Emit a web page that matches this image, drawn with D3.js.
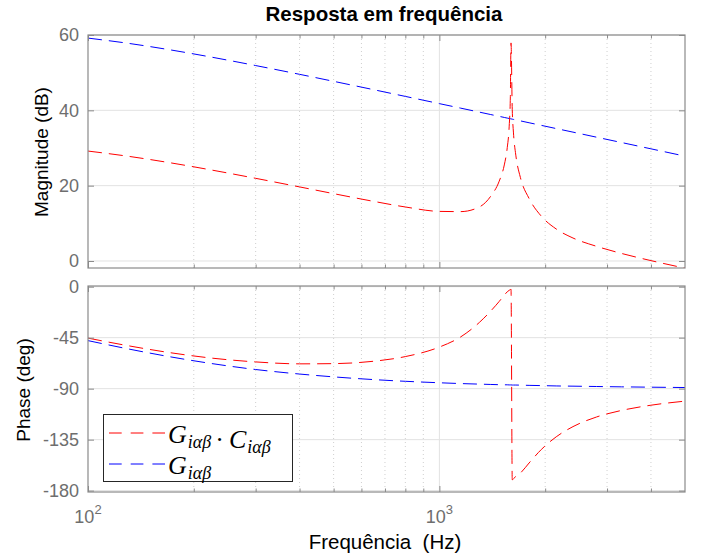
<!DOCTYPE html>
<html>
<head>
<meta charset="utf-8">
<script src="https://cdn.jsdelivr.net/npm/d3@7"></script>
<style>
body { margin: 0; background: #fff; }
text { font-family: "Liberation Sans", Arial, Helvetica, sans-serif; }
</style>
</head>
<body>
<script>
// frequency samples (Hz), denser around the resonance
var freq = [100, 130, 170, 220, 300, 400, 500, 650, 800, 1000, 1150, 1300, 1400, 1480, 1530, 1560, 1580, 1592, 1599,
            1612, 1625, 1650, 1700, 1800, 1950, 2150, 2400, 2800, 3300, 4000, 5000];

// G (blue)
var magG = [59.18, 57.80, 56.11, 54.28, 51.89, 49.56, 47.70, 45.48, 43.70, 41.78, 40.58, 39.52, 38.88, 38.40, 38.11, 37.94, 37.83, 37.77, 37.73,
            37.66, 37.59, 37.46, 37.20, 36.70, 36.01, 35.16, 34.21, 32.87, 31.45, 29.78, 27.84];
var phaseG = [-47.6, -54.9, -61.7, -67.4, -73.1, -77.1, -79.6, -82.0, -83.5, -84.8, -85.5, -86.0, -86.3, -86.5, -86.6, -86.6, -86.7, -86.7, -86.7,
              -86.8, -86.8, -86.8, -86.9, -87.1, -87.3, -87.6, -87.8, -88.1, -88.4, -88.7, -89.0];

// G*C (red)
var magGC = [29.19, 27.81, 26.13, 24.31, 21.95, 19.67, 17.88, 15.83, 14.34, 13.17, 13.11, 14.35, 17.2, 21.2, 25.5, 30.1, 35.8, 43.6, 57.9,
             40.2, 34.0, 28.1, 22.2, 16.6, 11.9, 8.5, 6.1, 3.9, 2.0, 0.1, -1.9];
var phaseGC = [-45.4, -52.1, -58.1, -62.7, -66.4, -68.1, -67.9, -65.8, -61.7, -53.3, -44.3, -31.5, -21.5, -13.0, -7.5, -4.5, -3.2, -2.6, -2.2,
               -170.5, -169.5, -167.5, -164.5, -155.6, -143.7, -132.5, -123.5, -115.0, -109.2, -104.6, -101.0];

var magTicks = [0, 20, 40, 60];
var phaseTicks = [0, -45, -90, -135, -180];
var xMajor = [100, 1000];
var xMinor = [200, 300, 400, 500, 600, 700, 800, 900, 2000, 3000, 4000];

var width = 702, height = 555;
var left = 88, right = 685;

var x = d3.scaleLog().domain([100, 5000]).range([left, right]);
var yMag = d3.scaleLinear().domain([-1.86, 60]).range([268, 35]);
var yPh = d3.scaleLinear().domain([-181.2, 0.6]).range([492, 286]);

var svg = d3.select("body").append("svg")
    .attr("width", width)
    .attr("height", height);

function seriesOf(vals) {
    return freq.map(function (f, i) { return { f: f, v: vals[i] }; });
}

function drawPanel(y, ticks, id, series) {
    var top = y.range()[1], bottom = y.range()[0];
    var g = svg.append("g").attr("id", id);

    // minor grid (dotted)
    g.selectAll("line.minor").data(xMinor).enter().append("line")
        .attr("x1", function (d) { return x(d); }).attr("x2", function (d) { return x(d); })
        .attr("y1", top).attr("y2", bottom)
        .attr("stroke", "#cfcfcf").attr("stroke-width", 1)
        .attr("stroke-dasharray", "1,3");

    // major grid
    g.selectAll("line.majx").data(xMajor.slice(1)).enter().append("line")
        .attr("x1", function (d) { return x(d); }).attr("x2", function (d) { return x(d); })
        .attr("y1", top).attr("y2", bottom)
        .attr("stroke", "#e2e2e2").attr("stroke-width", 1);
    g.selectAll("line.majy").data(ticks).enter().append("line")
        .attr("x1", left).attr("x2", right)
        .attr("y1", function (d) { return y(d); }).attr("y2", function (d) { return y(d); })
        .attr("stroke", "#e2e2e2").attr("stroke-width", 1);

    // data
    var clipId = "clip-" + id;
    g.append("clipPath").attr("id", clipId).append("rect")
        .attr("x", left).attr("y", top).attr("width", right - left).attr("height", bottom - top);

    var line = d3.line()
        .x(function (d) { return x(d.f); })
        .y(function (d) { return y(d.v); })
        .curve(d3.curveMonotoneX);

    series.forEach(function (s) {
        g.append("path")
            .datum(seriesOf(s.vals))
            .attr("clip-path", "url(#" + clipId + ")")
            .attr("fill", "none")
            .attr("stroke", s.color)
            .attr("stroke-width", 1)
            .attr("stroke-dasharray", "14,7")
            .attr("d", line);
    });

    // axes (ticks pointing inward)
    var axL = g.append("g").attr("transform", "translate(" + left + ",0)")
        .call(d3.axisLeft(y).tickValues(ticks).tickSize(-6).tickPadding(9).tickFormat(function (d) { return String(d); }));
    var axR = g.append("g").attr("transform", "translate(" + right + ",0)")
        .call(d3.axisRight(y).tickValues(ticks).tickSize(-6).tickFormat(""));
    var axB = g.append("g").attr("transform", "translate(0," + bottom + ")")
        .call(d3.axisBottom(x).tickValues(xMajor).tickSize(-6).tickFormat(""));
    var axT = g.append("g").attr("transform", "translate(0," + top + ")")
        .call(d3.axisTop(x).tickValues(xMajor).tickSize(-6).tickFormat(""));
    var axBm = g.append("g").attr("transform", "translate(0," + bottom + ")")
        .call(d3.axisBottom(x).tickValues(xMinor).tickSize(-3.5).tickFormat(""));
    var axTm = g.append("g").attr("transform", "translate(0," + top + ")")
        .call(d3.axisTop(x).tickValues(xMinor).tickSize(-3.5).tickFormat(""));

    [axL, axR, axB, axT, axBm, axTm].forEach(function (a) {
        a.select(".domain").remove();
        a.selectAll(".tick line").attr("stroke", "#8a8a8a");
    });
    axL.selectAll(".tick text")
        .attr("fill", "#6e6e6e")
        .style("font-size", "18px")
        .style("font-family", "'Liberation Sans', Arial, sans-serif");

    // box
    g.append("rect")
        .attr("x", left).attr("y", top)
        .attr("width", right - left).attr("height", bottom - top)
        .attr("fill", "none").attr("stroke", "#8a8a8a").attr("stroke-width", 1.2);
}

drawPanel(yMag, magTicks, "mag", [
    { vals: magG, color: "#0000ff" },
    { vals: magGC, color: "#ff0000" }
]);
drawPanel(yPh, phaseTicks, "phase", [
    { vals: phaseG, color: "#0000ff" },
    { vals: phaseGC, color: "#ff0000" }
]);

// x tick labels 10^n
xMajor.forEach(function (d) {
    var t = svg.append("text")
        .attr("x", x(d))
        .attr("y", 523)
        .attr("text-anchor", "middle")
        .attr("fill", "#6e6e6e")
        .style("font-size", "18px");
    t.append("tspan").text("10");
    t.append("tspan").attr("dy", -9).style("font-size", "13px").text(String(Math.round(Math.log10(d))));
});

// titles
svg.append("text")
    .attr("x", 384).attr("y", 21)
    .attr("text-anchor", "middle")
    .style("font-size", "20.5px").style("font-weight", "bold")
    .text("Resposta em frequência");

svg.append("text")
    .attr("x", 385).attr("y", 549)
    .attr("text-anchor", "middle")
    .style("font-size", "20.5px")
    .attr("xml:space", "preserve")
    .text("Frequência  (Hz)");

svg.append("text")
    .attr("transform", "translate(48,152) rotate(-90)")
    .attr("text-anchor", "middle")
    .style("font-size", "19px")
    .text("Magnitude (dB)");

svg.append("text")
    .attr("transform", "translate(30,390) rotate(-90)")
    .attr("text-anchor", "middle")
    .style("font-size", "19px")
    .text("Phase (deg)");

// legend
var legend = svg.append("g").attr("id", "legend");
legend.append("rect")
    .attr("x", 103.5).attr("y", 414.5)
    .attr("width", 189).attr("height", 67)
    .attr("fill", "#fff").attr("stroke", "#262626").attr("stroke-width", 1);

var legendItems = [
    { color: "#ff0000", y: 433, parts: [["G", "iαβ"], ["C", "iαβ"]] },
    { color: "#0000ff", y: 464, parts: [["G", "iαβ"]] }
];

legendItems.forEach(function (item) {
    legend.append("line")
        .attr("x1", 109).attr("x2", 165)
        .attr("y1", item.y).attr("y2", item.y)
        .attr("stroke", item.color).attr("stroke-width", 1)
        .attr("stroke-dasharray", "12.7,9");

    var t = legend.append("text")
        .attr("x", 168).attr("y", item.y + 10)
        .style("font-family", "'Liberation Serif', 'Times New Roman', serif")
        .style("font-size", "26px");
    item.parts.forEach(function (p, i) {
        if (i > 0) {
            t.append("tspan").attr("dx", 4).style("font-style", "normal").text("·");
            t.append("tspan").attr("dx", 5).style("font-style", "italic").text(p[0]);
        } else {
            t.append("tspan").style("font-style", "italic").text(p[0]);
        }
        t.append("tspan").attr("dy", 5).attr("dx", 1)
            .style("font-style", "italic").style("font-size", "18px").text(p[1]);
        t.append("tspan").attr("dy", -5).text("");
    });
});
</script>
</body>
</html>
